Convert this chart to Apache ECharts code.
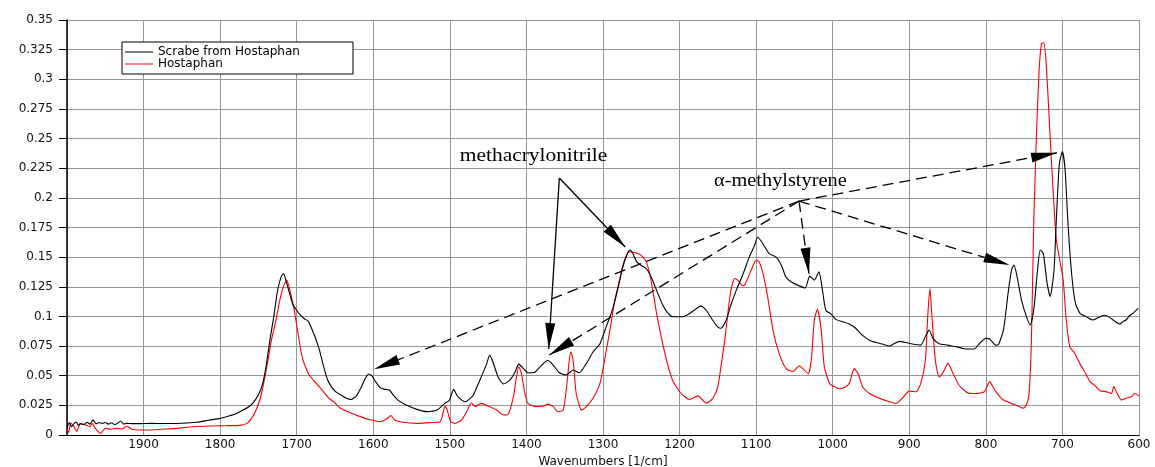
<!DOCTYPE html>
<html>
<head>
<meta charset="utf-8">
<title>FTIR spectra</title>
<script src="https://cdn.jsdelivr.net/npm/echarts@6/dist/echarts.min.js"></script>
<style>
  html, body { margin: 0; padding: 0; background: #fff; }
  #chart { width: 1155px; height: 467px; }
</style>
</head>
<body>
<div id="chart"></div>
<script>
// Scraped sample: wavenumber (1/cm) and absorbance
const scrapeWn = [2000,1997,1994,1991,1988,1985,1982,1978,1974,1970,1966,1962,1958,1954,1950,1946,1942,1938,1934,1930,1926,1922,1915,1905,1890,1870,1850,1830,1815,1800,1790,1780,1770,1762,1756,1750,1745,1740,1735,1730,1725,1720,1717,1714,1710,1705,1700,1695,1690,1685,1680,1675,1670,1665,1660,1655,1650,1643,1635,1629,1622,1616,1611,1606,1602,1597,1591,1585,1579,1573,1567,1557,1543,1530,1517,1507,1501,1498,1495,1492,1489,1480,1470,1465,1459,1452,1448,1444,1437,1430,1422,1415,1410,1404,1398,1389,1380,1372,1365,1357,1348,1339,1331,1322,1313,1304,1296,1287,1280,1274,1267,1264,1261,1256,1250,1243,1237,1230,1222,1215,1209,1196,1187,1176,1172,1165,1157,1150,1146,1139,1133,1126,1117,1109,1102,1098,1094,1089,1083,1074,1067,1061,1054,1046,1036,1030,1024,1018,1014,1009,1002,996,987,978,970,961,952,943,935,926,920,913,904,896,885,879,874,869,861,850,839,828,815,809,800,795,787,784,777,771,766.5,763.5,760,753.5,747,742,737,733,729,725,720,716,711,708,704,700,696.5,693,688,683,677,669,660,651,645,638,632,625,621,617,612,608,601];
const scrapeAbs = [0.0056,0.0104,0.007,0.0095,0.011,0.008,0.0095,0.0088,0.0108,0.0092,0.0128,0.0095,0.0105,0.0098,0.0105,0.0092,0.0103,0.0088,0.0098,0.0118,0.0092,0.0098,0.0096,0.0096,0.0098,0.0097,0.0099,0.0108,0.0125,0.014,0.0158,0.0178,0.021,0.024,0.028,0.034,0.042,0.058,0.080,0.0997,0.122,0.134,0.136,0.130,0.121,0.110,0.105,0.101,0.098,0.096,0.089,0.081,0.071,0.058,0.047,0.041,0.037,0.034,0.031,0.030,0.033,0.040,0.047,0.0514,0.050,0.045,0.040,0.0385,0.038,0.033,0.029,0.0253,0.0216,0.0197,0.021,0.0265,0.029,0.034,0.0385,0.035,0.032,0.028,0.033,0.040,0.049,0.060,0.0674,0.062,0.049,0.043,0.046,0.053,0.0598,0.056,0.0525,0.053,0.059,0.063,0.059,0.0525,0.0506,0.0548,0.0525,0.060,0.070,0.077,0.091,0.107,0.125,0.142,0.1545,0.156,0.153,0.146,0.143,0.140,0.133,0.122,0.1096,0.1025,0.0997,0.0997,0.1025,0.1076,0.1087,0.105,0.097,0.091,0.090,0.097,0.1096,0.122,0.136,0.150,0.160,0.167,0.164,0.159,0.153,0.150,0.143,0.133,0.129,0.1264,0.124,0.134,0.1306,0.1376,0.125,0.105,0.102,0.0975,0.0955,0.0935,0.090,0.084,0.080,0.078,0.0767,0.075,0.077,0.079,0.078,0.0767,0.0758,0.083,0.0885,0.0815,0.077,0.0758,0.0744,0.0728,0.0725,0.0767,0.0815,0.081,0.0758,0.076,0.0886,0.1195,0.139,0.1434,0.136,0.114,0.0998,0.0928,0.108,0.136,0.156,0.153,0.128,0.1167,0.139,0.181,0.229,0.239,0.2235,0.181,0.136,0.111,0.1026,0.0998,0.097,0.0998,0.101,0.099,0.0961,0.0936,0.0956,0.097,0.101,0.1026,0.1068];

// Reference film: wavenumber (1/cm) and absorbance
const hostWn = [2000,1998,1995,1991,1987,1983,1976,1970,1967,1963,1956,1950,1943,1935,1928,1922,1915,1904,1891,1878,1857,1835,1813,1791,1774,1765,1759,1752,1746,1739,1733,1727,1722,1717,1713,1710,1704,1699,1693,1687,1683,1675,1667,1658,1650,1643,1630,1617,1604,1591,1583,1577,1572,1561,1543,1526,1513,1510,1506.5,1503.5,1499,1493.5,1485,1478,1472,1467,1459,1450,1439,1430,1423.5,1417,1413,1410,1406.5,1402,1398,1387,1378,1372,1365,1359,1352,1348,1344,1342,1339,1335,1328,1322,1313,1304,1298,1291,1285,1278,1272,1266,1261,1254,1248,1243.5,1239,1235,1230,1224,1217,1209,1198,1187,1176,1165,1156.5,1150,1146,1141,1137,1133,1128,1124,1117,1113,1106.5,1100,1096,1091,1085,1078,1070,1061,1052,1044,1038,1032,1028,1024,1020,1015,1011,1004,998,991,983,978,972,967,961,952,939,926,917,909,900,891,885,879,875.7,873,870.4,866,861,855.7,849.6,843.5,835,824,813,802,795,789,782.6,778,769,758,751,747,743.5,740.4,737.4,734,730.4,727.4,724.3,721,716.5,712,708,703.5,699,695,690.4,684,677.4,671,664,658,651,642.6,636,633,629.6,623,616.5,610,605.7,600];
const hostAbs = [0.0056,0.002,0.010,0.007,0.003,0.0098,0.0084,0.007,0.0098,0.0056,0.0014,0.0056,0.0048,0.0056,0.005,0.0076,0.0048,0.0042,0.0042,0.0048,0.0056,0.007,0.0076,0.0079,0.0081,0.0098,0.014,0.0225,0.035,0.0576,0.080,0.097,0.114,0.126,0.1306,0.125,0.108,0.0885,0.066,0.0548,0.050,0.044,0.038,0.031,0.027,0.0225,0.0188,0.0155,0.0128,0.0112,0.0132,0.0165,0.0126,0.0107,0.0098,0.0104,0.0112,0.0155,0.0244,0.021,0.0112,0.0098,0.0126,0.0197,0.0272,0.0239,0.0267,0.0244,0.021,0.0169,0.0177,0.0323,0.049,0.0576,0.052,0.035,0.0267,0.0239,0.0244,0.026,0.0239,0.0197,0.021,0.038,0.063,0.070,0.063,0.035,0.021,0.0239,0.031,0.0435,0.063,0.0885,0.112,0.132,0.1475,0.1545,0.154,0.153,0.150,0.146,0.136,0.122,0.1025,0.083,0.063,0.046,0.035,0.030,0.033,0.0267,0.031,0.0407,0.0576,0.080,0.1025,0.122,0.132,0.1306,0.1256,0.129,0.139,0.1475,0.146,0.136,0.1166,0.0885,0.0688,0.056,0.0534,0.0584,0.0553,0.0514,0.063,0.097,0.106,0.0885,0.0576,0.0435,0.0407,0.039,0.0407,0.044,0.056,0.052,0.0407,0.035,0.031,0.028,0.0267,0.031,0.037,0.0365,0.0435,0.063,0.1025,0.1236,0.0997,0.063,0.049,0.053,0.0604,0.053,0.042,0.0357,0.035,0.0365,0.045,0.0385,0.033,0.030,0.0273,0.0245,0.0225,0.0253,0.035,0.083,0.181,0.252,0.308,0.330,0.331,0.311,0.257,0.204,0.1645,0.1476,0.1307,0.097,0.0745,0.069,0.0604,0.0534,0.045,0.042,0.0374,0.0365,0.035,0.0408,0.0365,0.0295,0.031,0.0323,0.035,0.033];

const seriesNames = ['Scrabe from Hostaphan', 'Hostaphan'];
const axisTitle = 'Wavenumbers [1/cm]';

// Annotation arrows: [from wavenumber, from absorbance, to wavenumber, to absorbance]
const nitrileArrows = [
  [1357, 0.2167, 1271, 0.1585],
  [1357, 0.2167, 1371, 0.0725]
];
const styreneArrows = [
  [1044, 0.1973, 1599, 0.0554],
  [1044, 0.1973, 1370, 0.0675],
  [1044, 0.1973, 1031, 0.1360],
  [1044, 0.1973, 769, 0.1433],
  [1044, 0.1973, 707, 0.2380]
];
// Annotation labels and their left/baseline anchors in data units
const noteTexts = ['methacrylonitrile', 'α-methylstyrene'];
const noteAnchors = [[1487, 0.2277], [1155, 0.2066]];

function zip(xs, ys) { return xs.map((x, i) => [x, ys[i]]); }
function arrowPairs(list, dashed) {
  return list.map(a => [
    { coord: [a[0], a[1]], lineStyle: { type: dashed ? [11, 6] : 'solid' } },
    { coord: [a[2], a[3]] }
  ]);
}

const chart = echarts.init(document.getElementById('chart'), null, { renderer: 'canvas' });
const gridColor = '#959595';
const labelFont = 'DejaVu Sans, Liberation Sans, sans-serif';

chart.setOption({
  animation: false,
  backgroundColor: '#fff',
  grid: {
    left: 67, right: 16, top: 20, bottom: 32,
    containLabel: false, outerBoundsMode: 'none'
  },
  legend: {
    data: seriesNames,
    orient: 'vertical',
    left: 122, top: 42,
    padding: [4, 6, 4, 3],
    itemGap: 0,
    itemWidth: 28, itemHeight: 1,
    icon: 'rect',
    backgroundColor: '#fff',
    borderColor: '#000', borderWidth: 1,
    textStyle: { fontFamily: labelFont, fontSize: 12, lineHeight: 11, color: '#000', width: 189 },
    selectedMode: false
  },
  xAxis: {
    type: 'value', inverse: true,
    min: 600, max: 2000, interval: 100,
    name: axisTitle, nameLocation: 'middle', nameGap: 21,
    nameTextStyle: { fontFamily: labelFont, fontSize: 12, color: '#111' },
    axisLine: { show: true, onZero: false, lineStyle: { color: '#000', width: 1.2 } },
    axisTick: { show: false },
    axisLabel: {
      margin: 4, fontFamily: labelFont, fontSize: 12, color: '#111',
      formatter: v => (v === 2000 ? '' : String(v))
    },
    splitLine: { show: true, lineStyle: { color: gridColor, width: 1 } }
  },
  yAxis: {
    type: 'value', min: 0, max: 0.35, interval: 0.025,
    axisLine: { show: true, onZero: false, lineStyle: { color: '#000', width: 1.5 } },
    axisTick: { show: true, inside: false, length: 8, lineStyle: { color: '#000' } },
    axisLabel: { margin: 14, fontFamily: labelFont, fontSize: 12, color: '#111' },
    splitLine: { show: true, lineStyle: { color: gridColor, width: 1 } }
  },
  series: [
    {
      name: seriesNames[0], type: 'line', data: zip(scrapeWn, scrapeAbs),
      showSymbol: false, symbol: 'none', smooth: 0.2,
      lineStyle: { color: '#000', width: 1.1 }, itemStyle: { color: '#000' },
      z: 3, silent: true
    },
    {
      name: seriesNames[1], type: 'line', data: zip(hostWn, hostAbs),
      showSymbol: false, symbol: 'none', smooth: 0.2,
      lineStyle: { color: '#ff0000', width: 1.1 }, itemStyle: { color: '#ff0000' },
      z: 2, silent: true
    },
    {
      name: 'arrows', type: 'line', data: [], silent: true, z: 5,
      markLine: {
        silent: true, animation: false,
        symbol: ['none', 'triangle'],
        symbolSize: [10, 26],
        symbolOffset: [[0, 0], [0, 13]],
        label: { show: false },
        emphasis: { disabled: true },
        lineStyle: { color: '#000', width: 1.3, opacity: 1 },
        itemStyle: { color: '#000' },
        data: arrowPairs(nitrileArrows, false).concat(arrowPairs(styreneArrows, true))
      }
    }
  ]
});

// Text annotations placed through the axes' own scales
const noteStretch = [1.19, 1.13];
const graphics = noteTexts.map((t, i) => {
  const p = chart.convertToPixel({ gridIndex: 0 }, noteAnchors[i]);
  return {
    type: 'text', x: p[0], y: p[1], scaleX: noteStretch[i], z: 10, silent: true,
    style: {
      text: t, fill: '#000',
      font: '18px "Liberation Serif", "DejaVu Serif", serif',
      textAlign: 'left', textVerticalAlign: 'bottom'
    }
  };
});
chart.setOption({ graphic: graphics });
</script>
</body>
</html>
